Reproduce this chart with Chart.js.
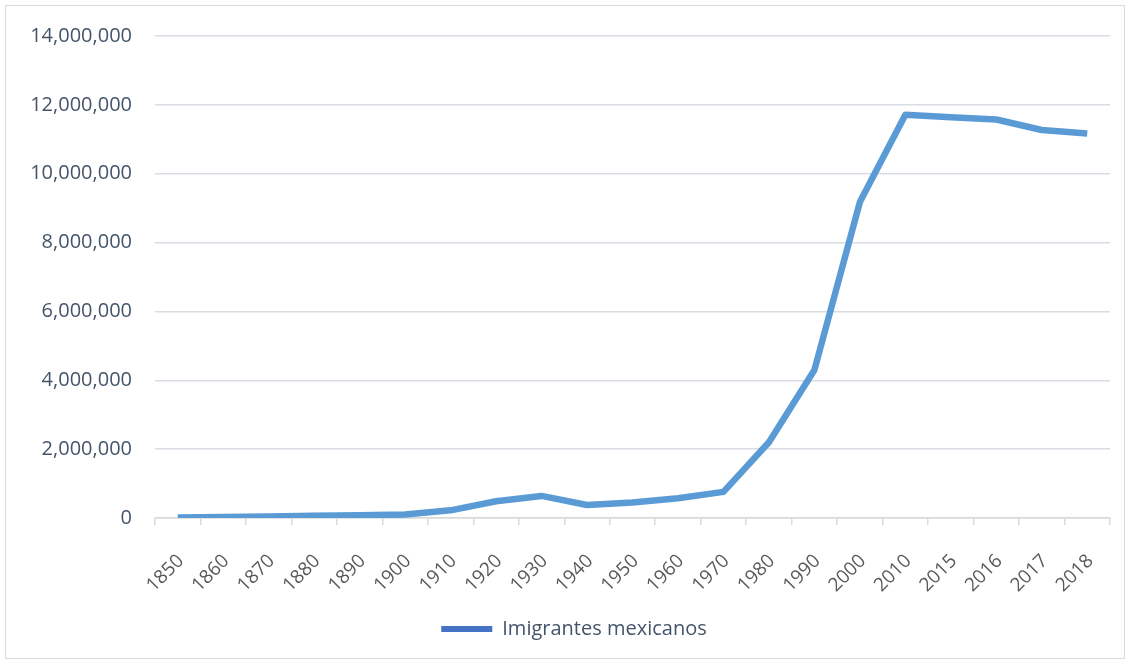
<!DOCTYPE html>
<html>
<head>
<meta charset="utf-8">
<script src="https://cdn.jsdelivr.net/npm/chart.js@4"></script>
<style>
  html, body { margin: 0; padding: 0; background: #fff; }
  #frame {
    position: absolute; left: 5px; top: 5px;
    width: 1118px; height: 652px;
    border: 1px solid #D9D9D9;
  }
</style>
</head>
<body>
<div id="frame"><canvas id="chart" width="1118" height="652"></canvas></div>
<script>
// Year labels (x axis)
const years = ['1850','1860','1870','1880','1890','1900','1910','1920','1930','1940',
               '1950','1960','1970','1980','1990','2000','2010','2015','2016','2017','2018'];

// Mexican immigrants
const immigrants = [13317, 27466, 42435, 68399, 77853, 103393, 221915, 486418, 641462, 377433,
                    450562, 575902, 759711, 2199221, 4298014, 9177487, 11711103, 11643298, 11573680, 11269913, 11171146];

const seriesName = 'Imigrantes mexicanos';
const yTicks = [0, 2000000, 4000000, 6000000, 8000000, 10000000, 12000000, 14000000];

const FONT = "'Open Sans', sans-serif";

// nudge the legend right so it sits where the original one does
const legendShift = {
  id: 'legendShift',
  afterLayout(chart) {
    if (chart.legend) { chart.legend.left += 16; chart.legend.right += 16; }
  }
};

new Chart(document.getElementById('chart'), {
  type: 'line',
  data: {
    labels: years,
    datasets: [{
      label: seriesName,
      data: immigrants,
      borderColor: '#5B9BD5',
      backgroundColor: '#5B9BD5',
      borderWidth: 6.5,
      pointRadius: 0,
      tension: 0,
      borderJoinStyle: 'round',
      borderCapStyle: 'butt'
    }]
  },
  plugins: [legendShift],
  options: {
    responsive: false,
    animation: false,
    layout: { padding: { top: 30, right: 14, left: 0, bottom: 9 } },
    plugins: {
      tooltip: { enabled: false },
      legend: {
        position: 'bottom',
        labels: {
          boxWidth: 51, boxHeight: 6, padding: 10,
          color: '#44546A',
          font: { family: FONT, size: 20 },
          generateLabels: chart => chart.data.datasets.map((ds, i) => ({
            text: ds.label, fillStyle: '#4472C4', strokeStyle: '#4472C4',
            lineWidth: 0, datasetIndex: i, fontColor: '#44546A'
          }))
        }
      }
    },
    scales: {
      x: {
        offset: true,
        border: { display: true, color: '#D9D9D9', width: 1.5 },
        grid: { display: true, drawOnChartArea: false, drawTicks: true, tickLength: 7, offset: true, color: '#D9D9D9', lineWidth: 1.5 },
        ticks: { autoSkip: false, maxRotation: 45, minRotation: 45, padding: 25, labelOffset: 3, color: '#595959', font: { family: FONT, size: 19 } },
        afterFit: scale => { scale.height = 91; scale.paddingLeft = 0; scale.paddingRight = 0; }
      },
      y: {
        min: 0, max: 14000000,
        border: { display: false },
        grid: { color: '#D9DDE3', lineWidth: 1.5, drawTicks: false },
        afterBuildTicks: scale => { scale.ticks = yTicks.map(v => ({ value: v })); },
        ticks: {
          padding: 23, color: '#44546A', font: { family: FONT, size: 20 },
          callback: v => v.toLocaleString('en-US')
        },
        afterFit: scale => { scale.width = 149; scale.paddingTop = 0; scale.paddingBottom = 0; }
      }
    }
  }
});
</script>
</body>
</html>
